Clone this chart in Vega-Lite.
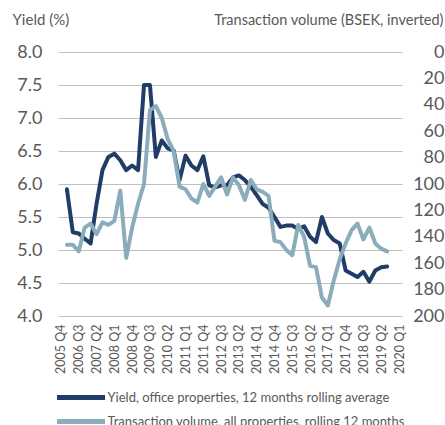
{
  "$schema": "https://vega.github.io/schema/vega-lite/v6.json",
  "width": 344,
  "height": 264,
  "autosize": {"type": "none"},
  "padding": {"left": 58, "top": 52, "right": 43, "bottom": 109},
  "config": {
    "font": "Lato",
    "view": {"stroke": null},
    "axis": {"labelColor": "#595959", "titleColor": "#595959", "titleFontWeight": "normal"}
  },
  "data": {"values": [
    {"q": "2006 Q1", "yield": 5.92, "volume": 146},
    {"q": "2006 Q2", "yield": 5.27, "volume": 146},
    {"q": "2006 Q3", "yield": 5.25, "volume": 151},
    {"q": "2006 Q4", "yield": 5.17, "volume": 133},
    {"q": "2007 Q1", "yield": 5.10, "volume": 130},
    {"q": "2007 Q2", "yield": 5.70, "volume": 138},
    {"q": "2007 Q3", "yield": 6.21, "volume": 129},
    {"q": "2007 Q4", "yield": 6.41, "volume": 131},
    {"q": "2008 Q1", "yield": 6.46, "volume": 128},
    {"q": "2008 Q2", "yield": 6.36, "volume": 105},
    {"q": "2008 Q3", "yield": 6.21, "volume": 156},
    {"q": "2008 Q4", "yield": 6.28, "volume": 133},
    {"q": "2009 Q1", "yield": 6.21, "volume": 115},
    {"q": "2009 Q2", "yield": 7.50, "volume": 100},
    {"q": "2009 Q3", "yield": 7.50, "volume": 44},
    {"q": "2009 Q4", "yield": 6.41, "volume": 41},
    {"q": "2010 Q1", "yield": 6.66, "volume": 50},
    {"q": "2010 Q2", "yield": 6.54, "volume": 66},
    {"q": "2010 Q3", "yield": 6.51, "volume": 75},
    {"q": "2010 Q4", "yield": 6.06, "volume": 102},
    {"q": "2011 Q1", "yield": 6.43, "volume": 104},
    {"q": "2011 Q2", "yield": 6.28, "volume": 111},
    {"q": "2011 Q3", "yield": 6.21, "volume": 114},
    {"q": "2011 Q4", "yield": 6.42, "volume": 100},
    {"q": "2012 Q1", "yield": 5.98, "volume": 109},
    {"q": "2012 Q2", "yield": 5.95, "volume": 102},
    {"q": "2012 Q3", "yield": 5.98, "volume": 95},
    {"q": "2012 Q4", "yield": 5.98, "volume": 108},
    {"q": "2013 Q1", "yield": 6.10, "volume": 95},
    {"q": "2013 Q2", "yield": 6.13, "volume": 101},
    {"q": "2013 Q3", "yield": 6.06, "volume": 112},
    {"q": "2013 Q4", "yield": 5.96, "volume": 97},
    {"q": "2014 Q1", "yield": 5.83, "volume": 104},
    {"q": "2014 Q2", "yield": 5.70, "volume": 106},
    {"q": "2014 Q3", "yield": 5.64, "volume": 109},
    {"q": "2014 Q4", "yield": 5.50, "volume": 143},
    {"q": "2015 Q1", "yield": 5.35, "volume": 144},
    {"q": "2015 Q2", "yield": 5.37, "volume": 150},
    {"q": "2015 Q3", "yield": 5.37, "volume": 154},
    {"q": "2015 Q4", "yield": 5.32, "volume": 131},
    {"q": "2016 Q1", "yield": 5.36, "volume": 140},
    {"q": "2016 Q2", "yield": 5.20, "volume": 162},
    {"q": "2016 Q3", "yield": 5.12, "volume": 163},
    {"q": "2016 Q4", "yield": 5.50, "volume": 186},
    {"q": "2017 Q1", "yield": 5.25, "volume": 192},
    {"q": "2017 Q2", "yield": 5.15, "volume": 173},
    {"q": "2017 Q3", "yield": 5.10, "volume": 157},
    {"q": "2017 Q4", "yield": 4.69, "volume": 145},
    {"q": "2018 Q1", "yield": 4.64, "volume": 135},
    {"q": "2018 Q2", "yield": 4.59, "volume": 130},
    {"q": "2018 Q3", "yield": 4.67, "volume": 142},
    {"q": "2018 Q4", "yield": 4.52, "volume": 133},
    {"q": "2019 Q1", "yield": 4.69, "volume": 145},
    {"q": "2019 Q2", "yield": 4.74, "volume": 149},
    {"q": "2019 Q3", "yield": 4.75, "volume": 151}
  ]},
  "encoding": {
    "x": {
      "field": "q",
      "type": "ordinal",
      "sort": null,
      "scale": {
        "type": "point",
        "padding": 0.5,
        "domain": ["2005 Q4","2006 Q1","2006 Q2","2006 Q3","2006 Q4","2007 Q1","2007 Q2","2007 Q3","2007 Q4","2008 Q1","2008 Q2","2008 Q3","2008 Q4","2009 Q1","2009 Q2","2009 Q3","2009 Q4","2010 Q1","2010 Q2","2010 Q3","2010 Q4","2011 Q1","2011 Q2","2011 Q3","2011 Q4","2012 Q1","2012 Q2","2012 Q3","2012 Q4","2013 Q1","2013 Q2","2013 Q3","2013 Q4","2014 Q1","2014 Q2","2014 Q3","2014 Q4","2015 Q1","2015 Q2","2015 Q3","2015 Q4","2016 Q1","2016 Q2","2016 Q3","2016 Q4","2017 Q1","2017 Q2","2017 Q3","2017 Q4","2018 Q1","2018 Q2","2018 Q3","2018 Q4","2019 Q1","2019 Q2","2019 Q3","2019 Q4","2020 Q1"]
      },
      "axis": {
        "title": null,
        "values": ["2005 Q4","2006 Q3","2007 Q2","2008 Q1","2008 Q4","2009 Q3","2010 Q2","2011 Q1","2011 Q4","2012 Q3","2013 Q2","2014 Q1","2014 Q4","2015 Q3","2016 Q2","2017 Q1","2017 Q4","2018 Q3","2019 Q2","2020 Q1"],
        "labelAngle": 270,
        "labelAlign": "right",
        "labelBaseline": "middle",
        "labelFontSize": 12.5,
        "labelPadding": 8,
        "ticks": false,
        "domain": false,
        "grid": false
      }
    }
  },
  "layer": [
    {
      "mark": {"type": "line", "strokeWidth": 4, "strokeCap": "round", "strokeJoin": "round"},
      "encoding": {
        "y": {
          "field": "yield",
          "type": "quantitative",
          "scale": {"domain": [4, 8], "nice": false, "zero": false},
          "axis": {
            "values": [4, 4.5, 5, 5.5, 6, 6.5, 7, 7.5, 8],
            "format": ".1f",
            "labelFontSize": 18,
            "labelPadding": 16,
            "ticks": false,
            "tickSize": 0,
            "domain": false,
            "grid": true,
            "gridColor": "#BFBFBF",
            "gridWidth": 1,
            "title": "Yield (%)",
            "titleAngle": 0,
            "titleAlign": "left",
            "titleBaseline": "alphabetic",
            "titleFontSize": 15,
            "titleX": -46,
            "titleY": -28
          }
        },
        "color": {
          "datum": "Yield, office properties, 12 months rolling average",
          "type": "nominal",
          "scale": {
            "domain": ["Yield, office properties, 12 months rolling average", "Transaction volume, all properties, rolling 12 months"],
            "range": ["#1F3D66", "#8AACBB"]
          },
          "legend": {
            "title": null,
            "orient": "none",
            "legendX": 0,
            "legendY": 339,
            "direction": "vertical",
            "symbolType": "M-6,0H6",
            "symbolSize": 64,
            "symbolStrokeWidth": 5,
            "symbolOffset": 16.5,
            "labelFontSize": 13,
            "labelColor": "#595959",
            "labelOffset": 20,
            "labelLimit": 400,
            "rowPadding": 3
          }
        }
      }
    },
    {
      "mark": {"type": "line", "strokeWidth": 4, "strokeCap": "round", "strokeJoin": "round"},
      "encoding": {
        "y": {
          "field": "volume",
          "type": "quantitative",
          "scale": {"domain": [0, 200], "reverse": true, "nice": false},
          "axis": {
            "orient": "right",
            "values": [0, 20, 40, 60, 80, 100, 120, 140, 160, 180, 200],
            "labelFontSize": 18,
            "labelPadding": 42,
            "labelAlign": "right",
            "ticks": false,
            "tickSize": 0,
            "domain": false,
            "grid": false,
            "title": "Transaction volume (BSEK, inverted)",
            "titleAngle": 0,
            "titleAlign": "right",
            "titleBaseline": "alphabetic",
            "titleFontSize": 14.5,
            "titleX": 41,
            "titleY": -28
          }
        },
        "color": {"datum": "Transaction volume, all properties, rolling 12 months", "type": "nominal"}
      }
    }
  ],
  "resolve": {"scale": {"y": "independent"}}
}
